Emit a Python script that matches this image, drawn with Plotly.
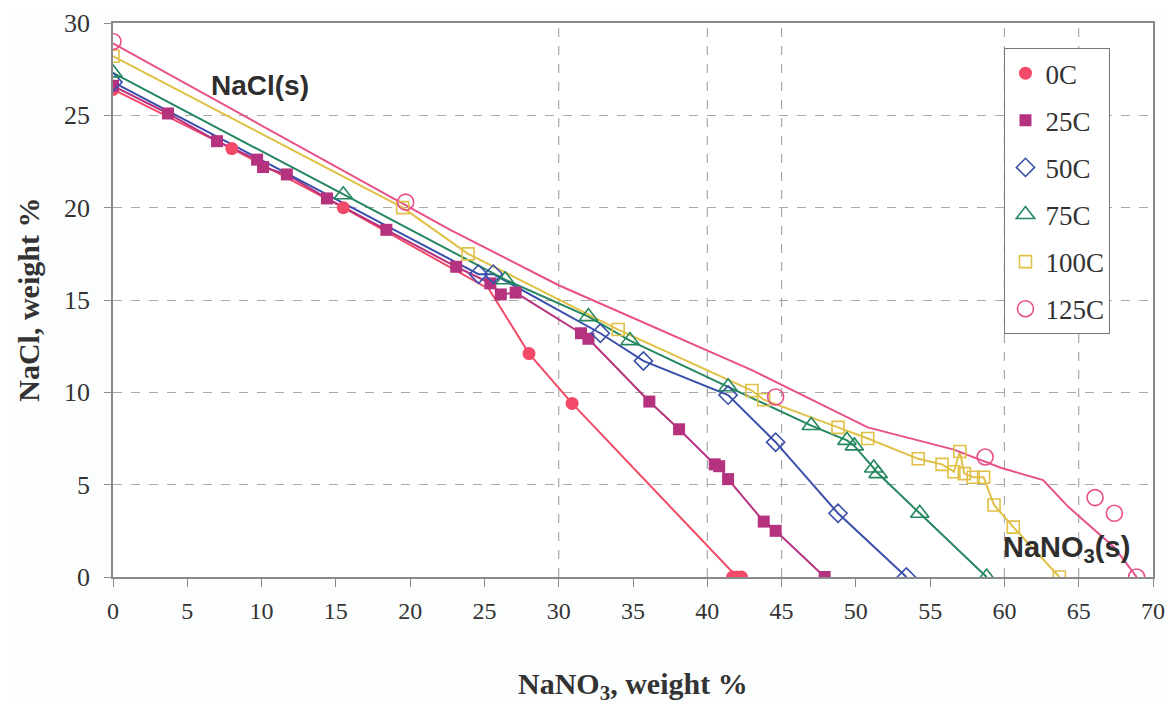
import plotly.graph_objects as go

# ---- data (NaNO3 wt% , NaCl wt%) ----
t0_x = [0, 8.0, 15.5, 28.0, 30.9, 41.7, 42.0, 42.3]
t0_y = [26.4, 23.2, 20.0, 12.1, 9.4, 0, 0, 0]
t0_line_x = [0, 8.0, 15.5, 25.3, 28.0, 30.9, 42.0]
t0_line_y = [26.4, 23.2, 20.0, 15.6, 12.1, 9.4, 0]

t25_x = [0, 3.7, 7.0, 9.7, 10.1, 11.7, 14.4, 18.4, 23.1, 25.4, 26.1, 27.1,
         31.5, 32.0, 36.1, 38.1, 40.5, 40.8, 41.4, 43.8, 44.6, 47.9]
t25_y = [26.6, 25.1, 23.6, 22.6, 22.2, 21.8, 20.5, 18.8, 16.8, 15.9, 15.3, 15.4,
         13.2, 12.9, 9.5, 8.0, 6.1, 6.0, 5.3, 3.0, 2.5, 0]

t50_x = [0, 24.6, 25.6, 32.8, 35.7, 41.4, 44.6, 48.8, 53.4]
t50_y = [26.8, 16.4, 16.4, 13.2, 11.7, 9.85, 7.3, 3.45, 0]

t75_x = [0, 15.5, 26.4, 32.0, 34.8, 41.4, 47.0, 49.4, 49.9, 51.2, 51.5, 54.3, 58.8]
t75_y = [27.3, 20.7, 16.1, 14.1, 12.8, 10.3, 8.2, 7.4, 7.1, 5.9, 5.6, 3.45, 0]

t100_x = [0, 19.5, 23.9, 34.0, 43.0, 43.8, 48.8, 50.8, 54.2, 55.8, 56.6, 57.0,
          57.3, 57.9, 58.6, 59.3, 60.6, 63.7]
t100_y = [28.2, 20.0, 17.5, 13.4, 10.1, 9.6, 8.1, 7.5, 6.4, 6.1, 5.7, 6.8,
          5.6, 5.4, 5.4, 3.9, 2.7, 0]

t125_x = [0, 19.7, 44.6, 58.7, 66.1, 67.4, 68.9]
t125_y = [29.0, 20.3, 9.75, 6.5, 4.3, 3.45, 0]
t125_line_x = [0, 22.7, 30.0, 39.6, 43.0, 50.8, 56.6, 59.8, 62.6, 64.3, 67.4, 68.9]
t125_line_y = [28.9, 18.8, 15.8, 12.4, 11.2, 8.1, 6.9, 5.9, 5.25, 3.8, 1.6, 0]

x_ticks = list(range(0, 71, 5))
y_ticks = list(range(0, 31, 5))
vgrid_x = [30, 40, 45, 60, 65]

series = [
    ("0C", t0_x, t0_y, t0_line_x, t0_line_y, "#F24A68", "circle", 13, None),
    ("25C", t25_x, t25_y, t25_x, t25_y, "#B5327E", "square", 12, None),
    ("50C", t50_x, t50_y, t50_x, t50_y, "#3A4FAA", "diamond-open", 14, 1.6),
    ("75C", t75_x, t75_y, t75_x, t75_y, "#24875F", "triangle-up-open", 16, 1.6),
    ("100C", t100_x, t100_y, t100_x, t100_y, "#E0C046", "square-open", 12, 1.6),
    ("125C", t125_x, t125_y, t125_line_x, t125_line_y, "#E8508A", "circle-open", 16, 1.6),
]

fig = go.Figure()

for name, x, y, lx, ly, col, sym, sz, lw in series:
    fig.add_trace(go.Scatter(x=lx, y=ly, mode="lines", line=dict(color=col, width=2),
                             showlegend=False, hoverinfo="skip"))

for i, (name, x, y, lx, ly, col, sym, sz, lw) in enumerate(series):
    mk = dict(symbol=sym, size=sz, color=col)
    if lw:
        mk["line"] = dict(color=col, width=lw)
    fig.add_trace(go.Scatter(x=x, y=y, mode="markers", name=name, marker=mk,
                             legendgroup=f"g{i}"))

serif = "Liberation Serif, Times New Roman, serif"
sans = "Liberation Sans, Arial, sans-serif"

for gx in vgrid_x:
    fig.add_shape(type="line", xref="x", yref="paper", x0=gx, x1=gx, y0=0, y1=1,
                  line=dict(color="#A8A8A8", width=1.2, dash="dash"), layer="below")

# page body has an 8px margin: figure occupies x 8..1174, y 8..704
fig.update_layout(
    width=1166, height=696,
    margin=dict(l=105, r=21, t=15, b=127, autoexpand=False),
    paper_bgcolor="#FCFDFD", plot_bgcolor="#FFFFFF",
    font=dict(family=serif, size=22, color="#333333"),
    showlegend=True,
    legend=dict(x=0.857, y=0.955, xanchor="left", yanchor="top",
                bgcolor="#FFFFFF", bordercolor="#777777", borderwidth=1.2,
                font=dict(family=serif, size=27, color="#333333"),
                tracegroupgap=9, itemwidth=30),
    xaxis=dict(range=[0, 70], tickvals=x_ticks, showgrid=False, zeroline=False,
               automargin=False,
               showline=True, linecolor="#8A8A8A", linewidth=1.5, mirror=True,
               ticks="outside", ticklen=8, tickcolor="#8A8A8A",
               ticklabelstandoff=3,
               tickfont=dict(family=serif, size=24, color="#333333")),
    yaxis=dict(range=[0, 30], tickvals=y_ticks, showgrid=True, automargin=False,
               gridcolor="#A8A8A8", griddash="dash", gridwidth=1.2, zeroline=False,
               showline=True, linecolor="#8A8A8A", linewidth=1.5, mirror=True,
               ticks="outside", ticklen=7, tickcolor="#8A8A8A",
               ticklabelstandoff=9,
               tickfont=dict(family=serif, size=26, color="#333333")),
    annotations=[
        dict(text="<b>NaCl, weight %</b>", xref="paper", yref="paper",
             x=-0.082, y=0.5, xanchor="center", yanchor="middle",
             textangle=-90, showarrow=False,
             font=dict(family=serif, size=30, color="#333333")),
        dict(text="<b>NaNO<sub>3</sub>, weight %</b>", xref="paper", yref="paper",
             x=0.5, y=-0.197, xanchor="center", yanchor="middle", showarrow=False,
             font=dict(family=serif, size=30, color="#333333")),
        dict(text="<b>NaCl(s)</b>", xref="x", yref="y", x=9.9, y=26.6,
             showarrow=False, font=dict(family=sans, size=28, color="#2E2E2E")),
        dict(text="<b>NaNO<sub>3</sub>(s)</b>", xref="x", yref="y", x=64.2, y=1.5,
             showarrow=False, font=dict(family=sans, size=29, color="#2E2E2E")),
    ],
)

fig.write_html("out.html")
